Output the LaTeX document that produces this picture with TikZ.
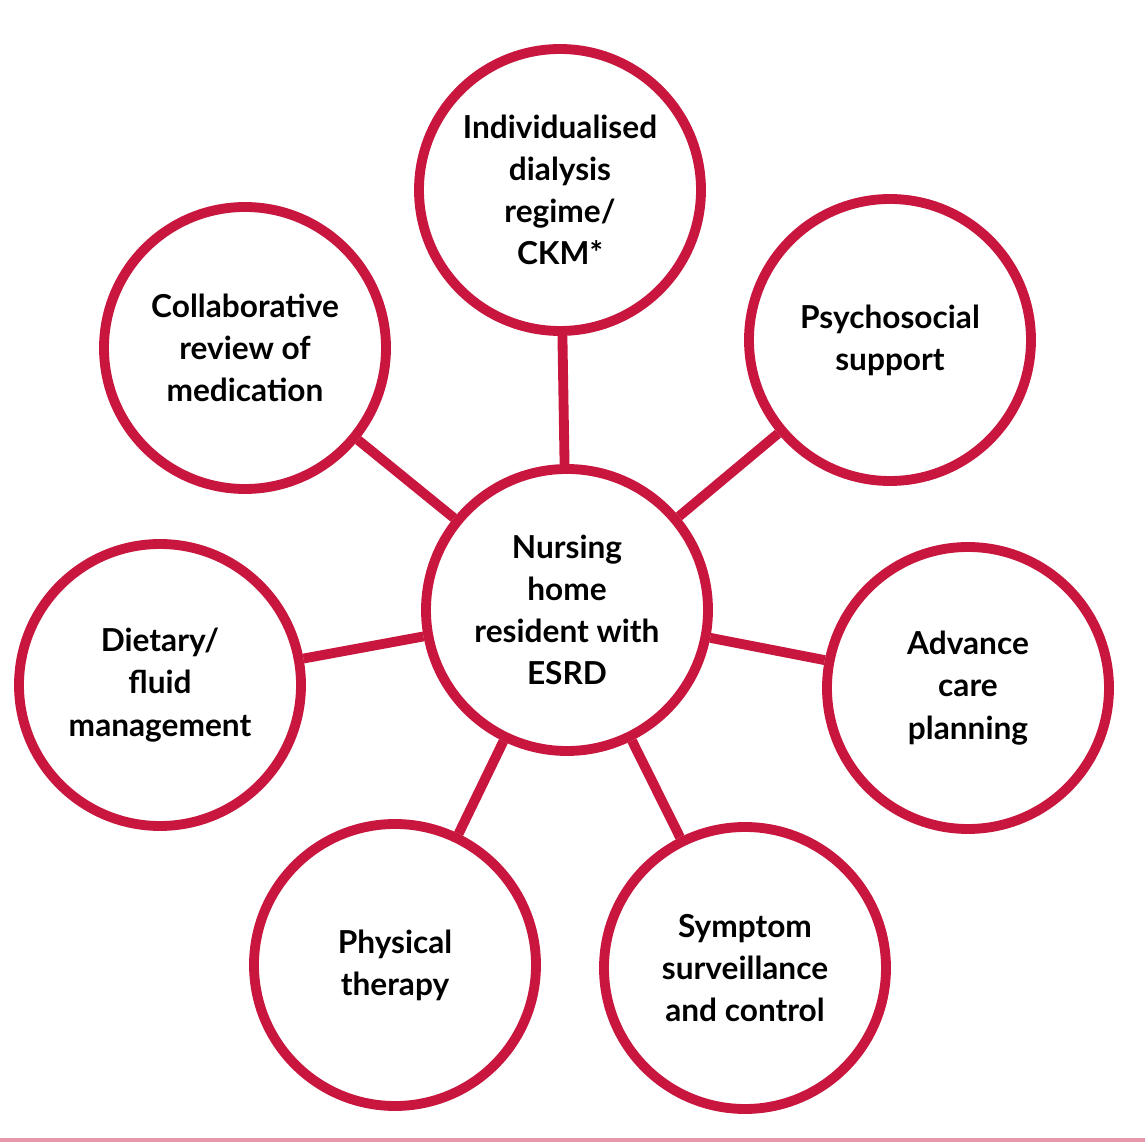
\documentclass[tikz,border=0pt]{standalone}
\usepackage{fontspec}
\setmainfont{Lato}
\usetikzlibrary{positioning}
\definecolor{hubred}{RGB}{200,22,62}
\definecolor{rulepink}{RGB}{232,150,170}
\tikzset{
	topic/.style={circle, draw=hubred, line width=2.8pt, fill=white, minimum size=2.82cm, align=center, font=\bfseries\fontsize{9pt}{12pt}\selectfont},
	spoke/.style={draw=hubred, line width=2.8pt}
}
\begin{document}
\begin{tikzpicture}
			\useasboundingbox (0,0) rectangle (11.45,11.45);
			\draw[rulepink, line width=1.2pt] (0,0.05) -- (11.45,0.05);
			
			\node[topic] (hub) at (5.67, 5.35) {Nursing\\home\\resident with\\ESRD};
			\node[topic] (dial) at (5.60, 9.55) {Individualised\\dialysis\\regime/\\CKM*};
			\node[topic] (psych) at (8.90, 8.05) {Psychosocial\\support};
			\node[topic] (collab) at (2.45, 7.97) {Collaborative\\review of\\medication};
			\node[topic] (diet) at (1.60, 4.60) {Dietary/\\fluid\\management};
			\node[topic] (adv) at (9.68, 4.57) {Advance\\care\\planning};
			\node[topic] (phys) at (3.95, 1.80) {Physical\\therapy};
			\node[topic] (symp) at (7.45, 1.77) {Symptom\\surveillance\\and control};
			
			\begin{scope}[on background layer/.style={}]
			\foreach \t in {dial, psych, collab, diet, adv, phys, symp}
				\draw[spoke] (hub) -- (\t);
			\end{scope}
\end{tikzpicture}
\end{document}
